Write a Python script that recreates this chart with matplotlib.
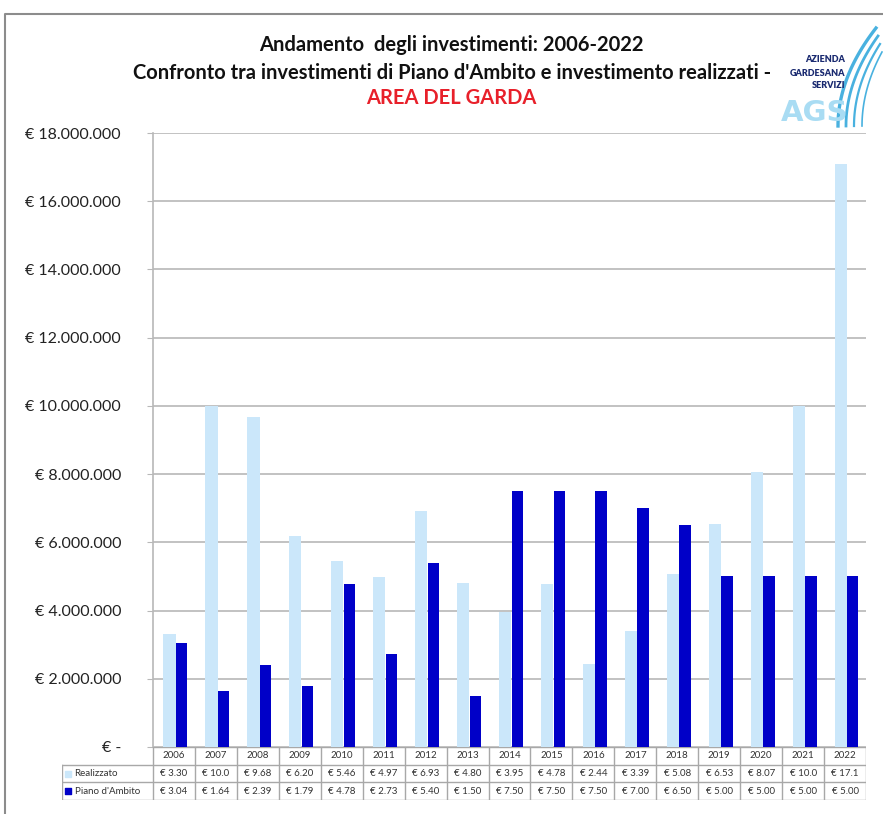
import matplotlib.pyplot as plt
import numpy as np

# Data (euro), by year
years = ['2006', '2007', '2008', '2009', '2010', '2011', '2012', '2013', '2014',
         '2015', '2016', '2017', '2018', '2019', '2020', '2021', '2022']
realizzato = [3.30, 10.0, 9.68, 6.20, 5.46, 4.97, 6.93, 4.80, 3.95,
              4.78, 2.44, 3.39, 5.08, 6.53, 8.07, 10.0, 17.1]
piano = [3.04, 1.64, 2.39, 1.79, 4.78, 2.73, 5.40, 1.50, 7.50,
         7.50, 7.50, 7.00, 6.50, 5.00, 5.00, 5.00, 5.00]
realizzato_lbl = ['€ 3.30', '€ 10.0', '€ 9.68', '€ 6.20', '€ 5.46', '€ 4.97', '€ 6.93', '€ 4.80', '€ 3.95',
                  '€ 4.78', '€ 2.44', '€ 3.39', '€ 5.08', '€ 6.53', '€ 8.07', '€ 10.0', '€ 17.1']
piano_lbl = ['€ 3.04', '€ 1.64', '€ 2.39', '€ 1.79', '€ 4.78', '€ 2.73', '€ 5.40', '€ 1.50', '€ 7.50',
             '€ 7.50', '€ 7.50', '€ 7.00', '€ 6.50', '€ 5.00', '€ 5.00', '€ 5.00', '€ 5.00']
yticks = [0, 2, 4, 6, 8, 10, 12, 14, 16, 18]
ytick_lbl = ['€ -', '€ 2.000.000', '€ 4.000.000', '€ 6.000.000', '€ 8.000.000',
             '€ 10.000.000', '€ 12.000.000', '€ 14.000.000', '€ 16.000.000', '€ 18.000.000']

c_real = '#cbe7fa'
c_piano = '#0000c8'
grid_c = '#b8b8b8'
font = 'Lato'

W, H = 883, 814
fig = plt.figure(figsize=(W / 100, H / 100), dpi=100)


def px(x0, y0, x1, y1):
    return [x0 / W, 1 - y1 / H, (x1 - x0) / W, (y1 - y0) / H]


# outer frame
frame = fig.add_axes([0, 0, 1, 1])
frame.set_xlim(0, W)
frame.set_ylim(H, 0)
frame.axis('off')
frame.plot([5, 5, W], [H, 14, 14], color='#8c8c8c', lw=1.5)

# titles
frame.text(451, 45, 'Andamento  degli investimenti: 2006-2022', ha='center', va='center',
           fontsize=14.5, fontweight='bold', family=font, color='#111111')
frame.text(452, 73, "Confronto tra investimenti di Piano d'Ambito e investimento realizzati -",
           ha='center', va='center', fontsize=14.5, fontweight='bold', family=font, color='#111111')
frame.text(451, 98, 'AREA DEL GARDA', ha='center', va='center',
           fontsize=14.5, fontweight='bold', family=font, color='#e8202a')

# logo
for i, t in enumerate(['AZIENDA', 'GARDESANA', 'SERVIZI']):
    frame.text(845, 60 + i * 13, t, ha='right', va='center', fontsize=6.5,
               fontweight='heavy', family=font, color='#1a2a70')
frame.text(815, 113, 'AGS', ha='center', va='center', fontsize=21, family='DejaVu Sans',
           color='#a9dcf3', fontweight='bold')
for k, (xb, xt) in enumerate([(838, 876), (846, 878), (854, 880), (862, 882)]):
    tt = np.linspace(0, 1, 30)
    xs = xb + (xt - xb) * tt ** 2
    ys = 126 - (126 - (28 + k * 8)) * tt
    frame.plot(xs, ys, color='#35a9dc', lw=2.4 - k * 0.4, alpha=0.9)

# main chart
x = np.arange(len(years))
ax = fig.add_axes(px(153, 133, 866, 747))
ax.bar(x - 0.25, realizzato, width=0.29, align='edge', color=c_real, zorder=2)
ax.bar(x + 0.05, piano, width=0.27, align='edge', color=c_piano, zorder=3)
ax.set_xlim(-0.5, len(years) - 0.5)
ax.set_ylim(0, 18)
ax.set_yticks(yticks)
ax.set_yticklabels(ytick_lbl, fontsize=11.5, family=font, color='#222222')
ax.tick_params(axis='y', length=4, color=grid_c, pad=19)
ax.set_xticks(np.arange(-0.5, len(years), 1))
ax.set_xticklabels([])
ax.tick_params(axis='x', length=0)
ax.grid(axis='y', color=grid_c, lw=1.2, zorder=0)
for s in ['top', 'right', 'bottom']:
    ax.spines[s].set_visible(False)
ax.spines['left'].set_color(grid_c)
ax.spines['left'].set_linewidth(1.2)

# data table
left_w = (153 - 62) / ((866 - 153) / len(years))
tb = fig.add_axes(px(62, 747, 866, 800))
tb.set_xlim(-0.5 - left_w, len(years) - 0.5)
tb.set_ylim(3, 0)
tb.axis('off')
lc = '#a8a8a8'
tb.plot([-0.5, len(years) - 0.5], [0, 0], color=lc, lw=1)
for yy in [1, 2, 3]:
    tb.plot([-0.5 - left_w, len(years) - 0.5], [yy, yy], color=lc, lw=1)
tb.plot([-0.5 - left_w, -0.5 - left_w], [1, 3], color=lc, lw=1)
for i in range(len(years) + 1):
    tb.plot([i - 0.5, i - 0.5], [0, 3], color=lc, lw=1)
for i in range(len(years)):
    tb.text(i, 0.5, years[i], ha='center', va='center', fontsize=7, family=font, color='#333333')
    tb.text(i, 1.5, realizzato_lbl[i], ha='center', va='center', fontsize=7, family=font, color='#333333')
    tb.text(i, 2.5, piano_lbl[i], ha='center', va='center', fontsize=7, family=font, color='#333333')
x0 = -0.5 - left_w
tb.scatter([x0 + 0.15], [1.5], marker='s', s=14, color=c_real)
tb.scatter([x0 + 0.15], [2.5], marker='s', s=14, color=c_piano)
tb.text(x0 + 0.3, 1.5, 'Realizzato', ha='left', va='center', fontsize=7, family=font, color='#333333')
tb.text(x0 + 0.3, 2.5, "Piano d'Ambito", ha='left', va='center', fontsize=7, family=font, color='#333333')

fig.savefig('out.png', dpi=100)
